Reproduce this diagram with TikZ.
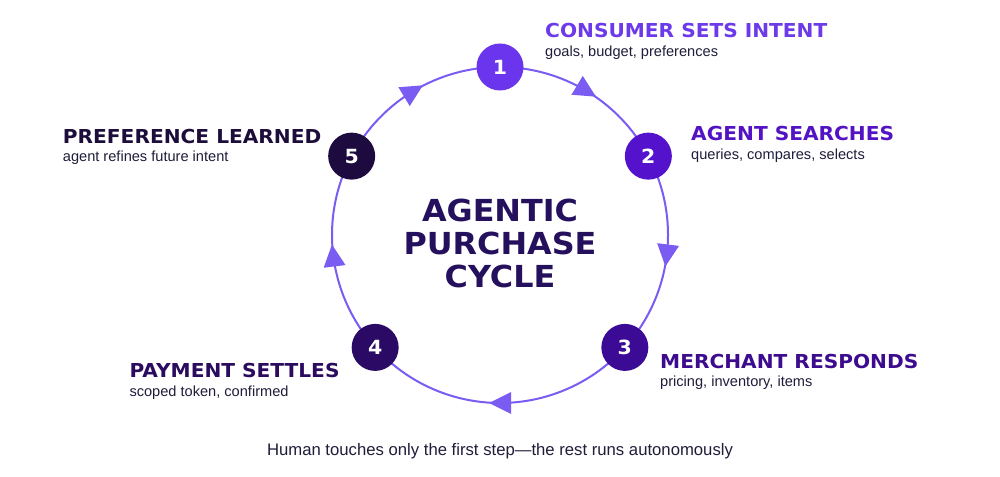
\documentclass[tikz,border=0pt]{standalone}
\usepackage{fontspec}
\setmainfont{Liberation Sans}
\newfontfamily\titlefont[FakeStretch=1.05]{DejaVu Sans Bold}
\usetikzlibrary{calc,decorations.markings,backgrounds}
\definecolor{cline}{HTML}{7B5CF2}
\definecolor{c1}{HTML}{6A35EC}
\definecolor{c2}{HTML}{5412CC}
\definecolor{c3}{HTML}{3C0B96}
\definecolor{c4}{HTML}{2B0A66}
\definecolor{c5}{HTML}{1D0B3F}
\definecolor{tc1}{HTML}{6C3AE9}
\definecolor{tc2}{HTML}{5313C4}
\definecolor{tc3}{HTML}{3D0C8E}
\definecolor{tc4}{HTML}{2A0B5E}
\definecolor{tc5}{HTML}{1C0D3A}
\definecolor{ctext}{HTML}{24105C}
\definecolor{subc}{HTML}{1F1D3A}
\begin{document}
\begin{tikzpicture}[x=1pt,y=1pt,
  cyc/.style={draw=cline, line width=2pt},
  stepnode/.style={circle, minimum size=47pt, inner sep=0pt, text=white, font=\titlefont\fontsize{19.5}{20}\selectfont},
  ttl/.style={anchor=base west, inner sep=0pt, font=\titlefont\fontsize{19.2}{21}\selectfont},
  subt/.style={anchor=base west, inner sep=0pt, text=subc, font=\fontsize{14.6}{16}\selectfont},
  midarrow/.style={postaction={decorate}, decoration={markings, mark=at position 0.5 with {\fill[cline] (-11pt,-11pt) -- (11pt,0pt) -- (-11pt,11pt) -- cycle;}}}
]
\useasboundingbox (0,0) rectangle (1000,476);
\coordinate (c) at (500,241);
\def\R{168}
\node[stepnode, fill=c1] (n1) at ($(c)+(90:\R)$) {1};
\node[stepnode, fill=c2] (n2) at ($(c)+(28:\R)$) {2};
\node[stepnode, fill=c3] (n3) at ($(c)+(-42:\R)$) {3};
\node[stepnode, fill=c4] (n4) at ($(c)+(-138:\R)$) {4};
\node[stepnode, fill=c5] (n5) at ($(c)+(152:\R)$) {5};
\begin{scope}[on background layer]
\fill[white] (0,0) rectangle (1000,476);
\draw[cyc, midarrow] (n1.center) arc[start angle=90, end angle=28, radius=\R];
\draw[cyc, midarrow] (n2.center) arc[start angle=28, end angle=-42, radius=\R];
\draw[cyc, midarrow] (n3.center) arc[start angle=-42, end angle=-138, radius=\R];
\draw[cyc, midarrow] (n4.center) arc[start angle=-138, end angle=-208, radius=\R];
\draw[cyc, midarrow] (n5.center) arc[start angle=152, end angle=90, radius=\R];
\end{scope}
\node[ttl, text=tc1] (t1) at (545,438) {CONSUMER SETS INTENT};
\node[subt] (s1) at (545,419.5) {goals, budget, preferences};
\node[ttl, text=tc2] (t2) at (691,335.3) {AGENT SEARCHES};
\node[subt] (s2) at (691,316.5) {queries, compares, selects};
\node[ttl, text=tc3] (t3) at (660,107.7) {MERCHANT RESPONDS};
\node[subt] (s3) at (660,89.5) {pricing, inventory, items};
\node[ttl, text=tc4] (t4) at (129.3,98.3) {PAYMENT SETTLES};
\node[subt] (s4) at (129.3,79.5) {scoped token, confirmed};
\node[ttl, text=tc5] (t5) at (62.7,332.7) {PREFERENCE LEARNED};
\node[subt] (s5) at (62.7,314.5) {agent refines future intent};
\node[align=center, text=ctext, inner sep=0pt, font=\titlefont\fontsize{30.3}{33}\selectfont] (ctr) at (500,233) {AGENTIC\\PURCHASE\\CYCLE};
\node[anchor=base, inner sep=0pt, text=subc, font=\fontsize{16.7}{18}\selectfont] (foot) at (500,20) {Human touches only the first step—the rest runs autonomously};
\end{tikzpicture}
\end{document}
